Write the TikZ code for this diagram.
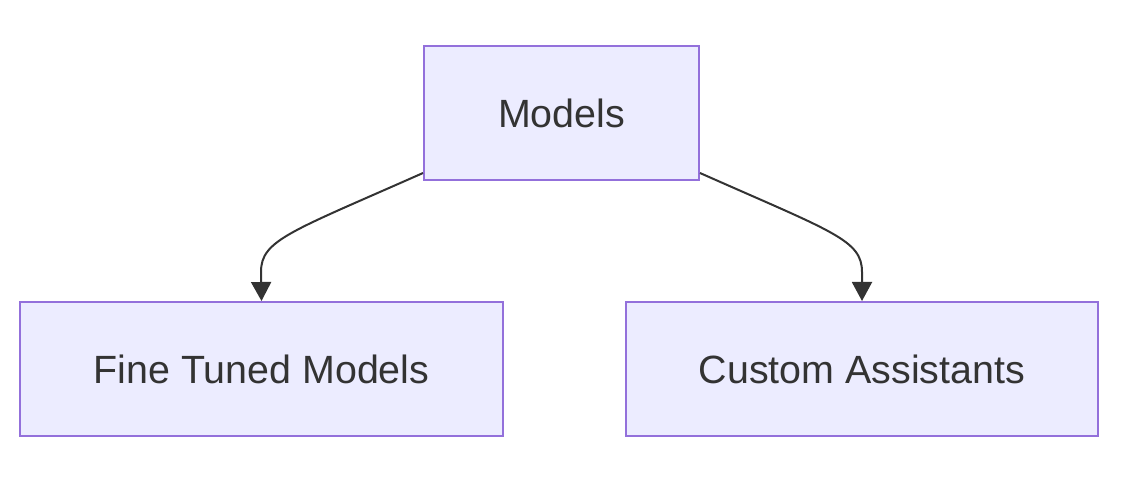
\documentclass[tikz,border=0pt]{standalone}
\usepackage{fontspec}
\setmainfont{Liberation Sans}
\usetikzlibrary{arrows.meta,calc}

\definecolor{boxfill}{HTML}{ECECFF}
\definecolor{boxline}{HTML}{9370DB}
\definecolor{ink}{HTML}{333333}

\tikzset{
  box/.style={draw=boxline, fill=boxfill, line width=1pt, text=ink,
    font=\fontsize{19.7}{23}\selectfont, inner sep=0pt, minimum height=67pt},
  link/.style={draw=ink, line width=1pt, -{Triangle[length=9.5pt,width=10pt]}}
}

\begin{document}
\begin{tikzpicture}[x=0.5pt, y=-0.5pt]
    \useasboundingbox (0,0) rectangle (1124,496);
    \node[box, minimum width=137.5pt] (models) at (561.5,113) {Models};
    \node[box, minimum width=241.5pt] (finetuned) at (261.5,369) {Fine Tuned Models};
    \node[box, minimum width=236pt] (assistants) at (862,369) {Custom Assistants};
    % curved links
    \draw[link] ([yshift=4pt]models.south west) .. controls (290,232) and (261,240) .. (261,272) -- (finetuned.north);
    \draw[link] ([yshift=4pt]models.south east) .. controls (833,232) and (862,240) .. (862,272) -- (assistants.north);
  \end{tikzpicture}
\end{document}
